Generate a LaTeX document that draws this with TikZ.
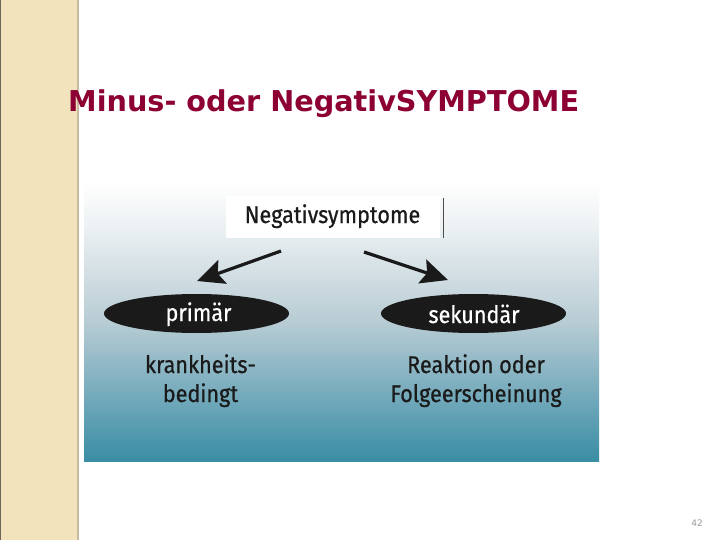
\documentclass[tikz,border=0pt]{standalone}
\usepackage{fontspec}
\usetikzlibrary{arrows.meta,shapes.geometric}
\setmainfont{DejaVu Sans}
\newfontfamily\condf[FakeStretch=0.9,FakeBold=0.7]{Fira Sans}
\definecolor{beige}{RGB}{243,227,188}
\definecolor{beigeedge}{RGB}{200,186,160}
\definecolor{titlered}{RGB}{140,0,52}
\definecolor{tealb}{RGB}{58,141,164}
\definecolor{tealm}{RGB}{112,168,186}
\definecolor{graym}{RGB}{184,204,212}
\definecolor{grayl}{RGB}{236,241,243}
\definecolor{inkc}{RGB}{26,26,26}
\pgfdeclareverticalshading{panelshade}{100bp}{color(0bp)=(tealb); color(25bp)=(tealb); color(36bp)=(tealm); color(50bp)=(graym); color(67bp)=(grayl); color(75bp)=(white); color(100bp)=(white)}
\tikzset{
  diag/.style={font=\condf\fontsize{24}{29}\selectfont, text=inkc, align=center, inner sep=0pt},
  oval/.style={ellipse, fill=inkc, minimum width=185pt, minimum height=39pt, inner sep=0pt},
  ovaltext/.style={text=white, font=\condf\fontsize{24}{29}\selectfont, inner sep=0pt},
  bigarrow/.style={line width=3.2pt, draw=inkc, -{Stealth[length=27pt,width=25pt,inset=5pt]}},
}
\begin{document}
\begin{tikzpicture}[x=1pt,y=-1pt]
\useasboundingbox (0,0) rectangle (720,540);
\fill[white] (0,0) rectangle (720,540);
% beige stripe
\fill[beige] (0,0) rectangle (78,540);
\draw[beigeedge, line width=2pt] (78,0) -- (78,540);
\draw[black!55!beige, line width=1pt] (0.5,0) -- (0.5,540);
% title
\node[anchor=base west, inner sep=0pt, text=titlered, font=\bfseries\fontsize{28.7}{32}\selectfont] (title) at (68,112) {Minus- oder NegativSYMPTOME};
% panel
\shade[shading=panelshade] (84,182) rectangle (599,461);
% top box
\fill[white] (226,196) rectangle (440,238);
\draw[black!70, line width=0.8pt] (443,198) -- (443,238);
\node[diag, anchor=base] (top) at (332.5,223) {Negativsymptome};
% ellipses
\node[oval] (prim) at (196.5,313.5) {};
\node[oval] (sek) at (473.5,313.5) {};
\node[ovaltext, anchor=base] (primt) at (198.5,321) {primär};
\node[ovaltext, anchor=base] (sekt) at (474,323) {sekundär};
% arrows
\coordinate (la) at (281,251);
\coordinate (lb) at (197,281);
\coordinate (ra) at (364,252);
\coordinate (rb) at (448,280);
\draw[bigarrow] (la) -- (lb);
\draw[bigarrow] (ra) -- (rb);
% lower texts
\node[diag, anchor=base] (kb) at (200.5,402) {krankheits-\\bedingt};
\node[diag, anchor=base] (rf) at (476,402) {Reaktion oder\\Folgeerscheinung};
% page number
\node[text=black!40, font=\fontsize{9}{10}\selectfont, inner sep=0pt] (pg) at (697,523) {42};
\end{tikzpicture}
\end{document}
